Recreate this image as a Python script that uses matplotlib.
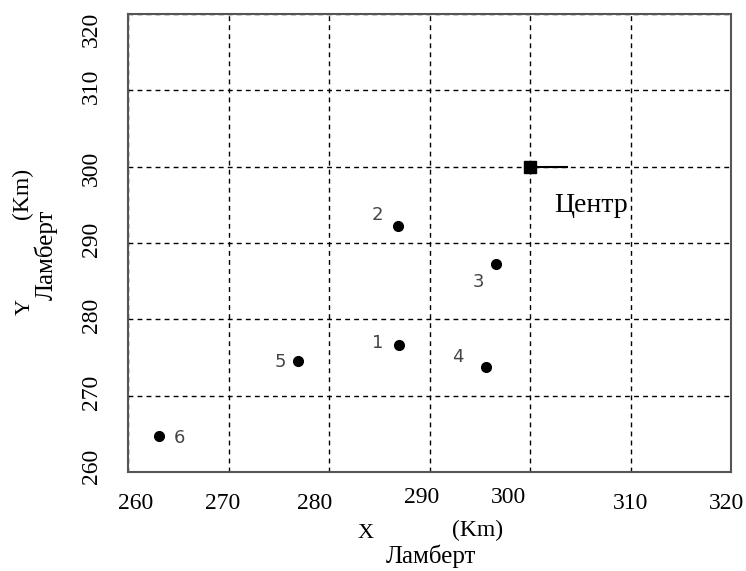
import matplotlib
matplotlib.use("Agg")
import matplotlib.pyplot as plt
from matplotlib.transforms import ScaledTranslation

# point coordinates (Lambert, km)
pt_labels = ["1", "2", "3", "4", "5", "6"]
pt_x = [287.0, 286.9, 296.6, 295.6, 276.9, 263.1]
pt_y = [276.6, 292.2, 287.2, 273.8, 274.6, 264.7]
# label offsets in pixels relative to each point
lbl_dx = [-22, -21, -17, -28, -18, 20]
lbl_dy = [2, 11, -18, 10, -1, -2]

center_x, center_y = 300.0, 300.0
center_line_x = [300.0, 303.7]
center_label = "Центр"

ticks = [260, 270, 280, 290, 300, 310, 320]
# the original tick labels are placed a bit irregularly (pixels, up = +)
xtl_dx = [8, -6, -14, -8, -21, 0, -5]
xtl_dy = [0, 0, 0, 6, 6, 0, 0]
ytl_dy = [6, 3, 4, 4, -2, 4, -15]

SERIF = ["Liberation Serif", "DejaVu Serif"]

fig = plt.figure(figsize=(7.46, 5.71), dpi=100)
ax = fig.add_axes([128 / 746, 1 - 472 / 571, 603 / 746, 458 / 571])
ax.set_xlim(260, 320); ax.set_ylim(260, 320)
ax.set_xticks(ticks); ax.set_yticks(ticks)
ax.set_xticklabels([str(t) for t in ticks], family=SERIF, fontsize=17)
ax.set_yticklabels([str(t) for t in ticks], family=SERIF, fontsize=17,
                   rotation=90, va="center")
ax.tick_params(axis="x", length=0, pad=15)
ax.tick_params(axis="y", length=0, pad=19)
for lbl, dx, dy in zip(ax.get_xticklabels(), xtl_dx, xtl_dy):
    lbl.set_transform(lbl.get_transform() + ScaledTranslation(dx / 100, dy / 100, fig.dpi_scale_trans))
for lbl, dy in zip(ax.get_yticklabels(), ytl_dy):
    lbl.set_transform(lbl.get_transform() + ScaledTranslation(0, dy / 100, fig.dpi_scale_trans))

ax.grid(True, color="black", ls=(0, (3.5, 3)), lw=1.0)
ax.set_axisbelow(True)
for s in ax.spines.values():
    s.set_color("#555555"); s.set_linewidth(1.5)

ax.plot(pt_x, pt_y, "o", color="black", ms=7, zorder=3)
for lb, x, y, dx, dy in zip(pt_labels, pt_x, pt_y, lbl_dx, lbl_dy):
    ax.annotate(lb, (x, y), xytext=(dx, dy), textcoords="offset pixels",
                ha="center", va="center", fontsize=13, color="#444444")

ax.plot(center_line_x, [center_y, center_y], "-", color="black", lw=1.5, zorder=3)
ax.plot([center_x], [center_y], "s", color="black", ms=8, zorder=4)
ax.text(306.1, 294.9, center_label, family=SERIF, fontsize=20, ha="center", va="center")

# axis titles
fig.text(366 / 746, 1 - 534 / 571, "X", family=SERIF, fontsize=16, ha="center", va="center")
fig.text(478 / 746, 1 - 530 / 571, "(Km)", family=SERIF, fontsize=17, ha="center", va="center")
fig.text(431 / 746, 1 - 556 / 571, "Ламберт", family=SERIF, fontsize=18, ha="center", va="center")
fig.text(25 / 746, 1 - 307 / 571, "Y", family=SERIF, fontsize=16, ha="center", va="center", rotation=90)
fig.text(22 / 746, 1 - 193 / 571, "(Km)", family=SERIF, fontsize=17, ha="center", va="center", rotation=90)
fig.text(46 / 746, 1 - 255 / 571, "Ламберт", family=SERIF, fontsize=18, ha="center", va="center", rotation=90)

fig.savefig("out.png", dpi=100)
